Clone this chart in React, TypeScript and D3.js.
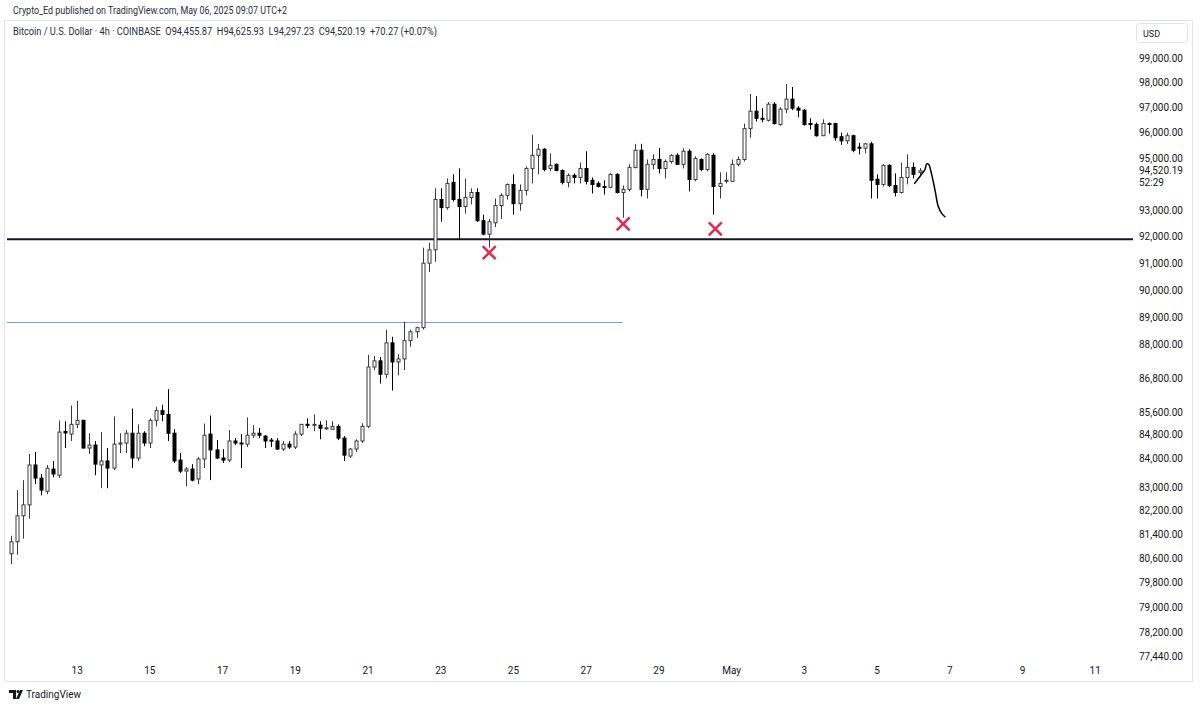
import React, { useEffect, useRef } from 'react';
import * as d3 from 'd3';

const W = 1200;
const H = 708;
const FONT = 'Roboto, "Liberation Sans", sans-serif';

// 4h bars, times in exchange-display time (UTC+2) stored as UTC
const firstBar = Date.UTC(2025, 3, 11, 6);
const lastBar = Date.UTC(2025, 4, 6, 6);
const BAR = 4 * 3600 * 1000;

// [open, high, low, close]
const ohlc: [number, number, number, number][] = [
  [80760, 81360, 80420, 81160], [81160, 82900, 80725, 82030], [82030, 83240, 81260, 82400],
  [82400, 84140, 81930, 83760], [83760, 84210, 83100, 83310], [83310, 83450, 82720, 82900],
  [82860, 83760, 82760, 83650], [83620, 83900, 83340, 83450], [83410, 85310, 83310, 84900],
  [84920, 85280, 84345, 84870], [84830, 85830, 84590, 85170], [85170, 86000, 85035, 85310],
  [85310, 85330, 84330, 84345], [84345, 84860, 84140, 84450], [84450, 84590, 83410, 83790],
  [83760, 84900, 82965, 83900], [83900, 84345, 82965, 83655], [83655, 85450, 83590, 84480],
  [84480, 84860, 84170, 84520], [84520, 84970, 84170, 84860], [84860, 85725, 83655, 84000],
  [84000, 85170, 83900, 84860], [84860, 84930, 84410, 84520], [84520, 85380, 84345, 85310],
  [85310, 85790, 85100, 85650], [85650, 85860, 85280, 85520], [85520, 86410, 84590, 84860],
  [84860, 85000, 83830, 83900], [83930, 84170, 83480, 83550], [83550, 83690, 83030, 83620],
  [83620, 83790, 83200, 83240], [83280, 84035, 83100, 83965], [83965, 85200, 83655, 84790],
  [84830, 85480, 83240, 84280], [84280, 84620, 83965, 84000], [84000, 84310, 83830, 83930],
  [83930, 84970, 83860, 84590], [84590, 84690, 84450, 84520], [84520, 84830, 83655, 84500],
  [84480, 85410, 84380, 84790], [84790, 85140, 84690, 84860], [84860, 85035, 84690, 84790],
  [84760, 84790, 84345, 84590], [84620, 84690, 84380, 84590], [84590, 84690, 84280, 84310],
  [84310, 84590, 84240, 84480], [84480, 84590, 84310, 84380], [84380, 84930, 84310, 84830],
  [84830, 85180, 84760, 85170], [85170, 85380, 85035, 85140], [85140, 85520, 84930, 85170],
  [85140, 85280, 84650, 85035], [85035, 85310, 84970, 85050], [85000, 85280, 85000, 85100],
  [85100, 85170, 84620, 84690], [84690, 84760, 83900, 84100], [84070, 84345, 84000, 84310],
  [84310, 84650, 84210, 84590], [84590, 85210, 84520, 85100], [85100, 87640, 85035, 87200],
  [87200, 87600, 87090, 87420], [87420, 87560, 86610, 86940], [86940, 88550, 86800, 88070],
  [88070, 88290, 86360, 87380], [87380, 87670, 86900, 87490], [87490, 88840, 87090, 88150],
  [88150, 88550, 87930, 88470], [88470, 88660, 88250, 88620], [88620, 91580, 88550, 91000],
  [91000, 91770, 90670, 91500], [91500, 93840, 91050, 93410], [93410, 93840, 92560, 93100],
  [93100, 94220, 93020, 94030], [94070, 94380, 93330, 93410], [93410, 94610, 91880, 93140],
  [93140, 94220, 92870, 93490], [93490, 93840, 93220, 93680], [93680, 93840, 92560, 92600],
  [92600, 92830, 92050, 92090], [92090, 92670, 91580, 92560], [92520, 93450, 92360, 93180],
  [93180, 93650, 92670, 93570], [93570, 94030, 93410, 93990], [93990, 94380, 92830, 93250],
  [93250, 93990, 92980, 93760], [93760, 94690, 93570, 94610], [94610, 95930, 94030, 95120],
  [95120, 95566, 94380, 95360], [95360, 95400, 94500, 94570], [94610, 95200, 94500, 94730],
  [94770, 94800, 94500, 94530], [94530, 94570, 93990, 94070], [94070, 94420, 93880, 94340],
  [94340, 94420, 94030, 94260], [94260, 94840, 94030, 94610], [94610, 95280, 93990, 94110],
  [94150, 94260, 93640, 93990], [94030, 94110, 93870, 93910], [93910, 94150, 93600, 93900],
  [93880, 94420, 93840, 94380], [94380, 94420, 93640, 93680], [93680, 93950, 92710, 93800],
  [93800, 94770, 93720, 94650], [94650, 95570, 94610, 95320], [95320, 95570, 93530, 93800],
  [93800, 94960, 93450, 94770], [94770, 95160, 94570, 94960], [94960, 95400, 94420, 94610],
  [94610, 94960, 94220, 94880], [94880, 95160, 94800, 95120], [95120, 95200, 94770, 94770],
  [94770, 95400, 94610, 95280], [95280, 95360, 93720, 94180], [94180, 95080, 94110, 95000],
  [94960, 95000, 94500, 94570], [94570, 95200, 94500, 95160], [95120, 95200, 92830, 93910],
  [93910, 94460, 93450, 94030], [94140, 94460, 94030, 94150], [94110, 94960, 94110, 94770],
  [94770, 95080, 94690, 94960], [94960, 96370, 94880, 96170], [96170, 97550, 95810, 96860],
  [96860, 97460, 96450, 96580], [96580, 96980, 96420, 96560], [96500, 97220, 96450, 97140],
  [97140, 97220, 96330, 96370], [96330, 97020, 96290, 96940], [96940, 97950, 96780, 97340],
  [97340, 97830, 96900, 96980], [96980, 97060, 96620, 96900], [96900, 96940, 96290, 96330],
  [96370, 96580, 96130, 96350], [96330, 96410, 95850, 95890], [95890, 96540, 95890, 96370],
  [96370, 96410, 95970, 96340], [96370, 96400, 95690, 95810], [95850, 96010, 95530, 95690],
  [95690, 96010, 95570, 95890], [95890, 95930, 95240, 95320], [95440, 95610, 95160, 95400],
  [95400, 95610, 95200, 95570], [95570, 95650, 93450, 94150], [94190, 94380, 93450, 93990],
  [93990, 94770, 93910, 94730], [94730, 94770, 93880, 93950], [93950, 94420, 93530, 93680],
  [93680, 94840, 93640, 94260], [94260, 95160, 93990, 94650], [94650, 94840, 94220, 94380],
  [94455.87, 94625.93, 94297.23, 94520.19],
];

const priceTicks = [
  99000, 98000, 97000, 96000, 95000, 93000, 92000, 91000, 90000, 89000, 88000,
  86800, 85600, 84800, 84000, 83000, 82200, 81400, 80600, 79800, 79000, 78200, 77440,
];

// [month index, day, label]
const dateTicks: [number, number, string][] = [
  [3, 13, '13'], [3, 15, '15'], [3, 17, '17'], [3, 19, '19'], [3, 21, '21'],
  [3, 23, '23'], [3, 25, '25'], [3, 27, '27'], [3, 29, '29'], [4, 1, 'May'],
  [4, 3, '3'], [4, 5, '5'], [4, 7, '7'], [4, 9, '9'], [4, 11, '11'],
];

const supportLevel = 91900;
const breakoutLevel = 88830;
const breakoutEndBar = 101;
// [bar index, price]
const crosses: [number, number][] = [[79, 91390], [101.1, 92480], [116.3, 92290]];
const penPath: [number, number][] = [
  [149.2, 94030], [149.8, 94220], [150.4, 94400], [150.9, 94570], [151.2, 94790],
  [151.5, 94770], [152.0, 94380], [152.6, 93720], [153.1, 93140], [153.7, 92870], [154.2, 92750],
];

const header1 = 'Crypto_Ed published on TradingView.com, May 06, 2025 09:07 UTC+2';
const header2 = 'Bitcoin / U.S. Dollar · 4h · COINBASE  O94,455.87  H94,625.93  L94,297.23  C94,520.19  +70.27 (+0.07%)';
const lastPrice = 94520.19;
const countdown = '52:29';

export default function App() {
  const ref = useRef<SVGSVGElement>(null);

  useEffect(() => {
    const svg = d3.select(ref.current);
    svg.selectAll('*').remove();

    const pane = { left: 5, right: 1133, top: 21, bottom: 660 };

    const x = d3.scaleUtc().domain([firstBar, lastBar]).range([10.5, 919.5]);
    const barX = (i: number) => x(firstBar + i * BAR);
    const y = d3.scaleLog().domain([77440, 99000]).range([656, 58]);
    const fmt = d3.format(',.2f');

    svg.append('rect').attr('width', W).attr('height', H).attr('fill', '#fff');

    // header
    svg.append('text').attr('x', 13).attr('y', 14).attr('font-family', FONT)
      .attr('font-size', 10).attr('fill', '#2a2e39')
      .attr('textLength', 274).attr('lengthAdjust', 'spacingAndGlyphs').text(header1);
    svg.append('rect').attr('x', 4.5).attr('y', 20.5).attr('width', 1188).attr('height', 661)
      .attr('fill', 'none').attr('stroke', '#e0e3eb');
    svg.append('text').attr('x', 13).attr('y', 35).attr('font-family', FONT)
      .attr('font-size', 10).attr('fill', '#2a2e39').attr('xml:space', 'preserve')
      .attr('textLength', 424).attr('lengthAdjust', 'spacingAndGlyphs').text(header2);

    const clip = svg.append('defs').append('clipPath').attr('id', 'pane');
    clip.append('rect').attr('x', pane.left).attr('y', pane.top)
      .attr('width', pane.right - pane.left).attr('height', pane.bottom - pane.top);
    const g = svg.append('g').attr('clip-path', 'url(#pane)');

    // horizontal levels
    g.append('line').attr('x1', pane.left + 2).attr('x2', barX(breakoutEndBar))
      .attr('y1', Math.round(y(breakoutLevel)) + 0.5).attr('y2', Math.round(y(breakoutLevel)) + 0.5)
      .attr('stroke', '#6f9cf5').attr('stroke-width', 1);
    g.append('line').attr('x1', pane.left + 2).attr('x2', pane.right)
      .attr('y1', y(supportLevel)).attr('y2', y(supportLevel))
      .attr('stroke', '#131722').attr('stroke-width', 2);

    // candles
    const candle = g.selectAll('g.c').data(ohlc).enter().append('g');
    candle.append('line')
      .attr('x1', (d, i) => Math.round(barX(i)) + 0.5).attr('x2', (d, i) => Math.round(barX(i)) + 0.5)
      .attr('y1', (d) => y(d[1])).attr('y2', (d) => y(d[2]))
      .attr('stroke', (d) => (d[3] >= d[0] ? '#3a3a3a' : '#000')).attr('stroke-width', 1);
    candle.append('rect')
      .attr('x', (d, i) => Math.round(barX(i)) - 1)
      .attr('y', (d) => y(Math.max(d[0], d[3])))
      .attr('width', 3)
      .attr('height', (d) => Math.max(1, y(Math.min(d[0], d[3])) - y(Math.max(d[0], d[3]))))
      .attr('fill', (d) => (d[3] >= d[0] ? '#fff' : '#000'))
      .attr('stroke', (d) => (d[3] >= d[0] ? '#3a3a3a' : '#000'))
      .attr('stroke-width', 1);

    // red crosses
    crosses.forEach(([i, p]) => {
      const cx = barX(i);
      const cy = y(p);
      const s = 6.5;
      g.append('path')
        .attr('d', `M${cx - s},${cy - s}L${cx + s},${cy + s}M${cx + s},${cy - s}L${cx - s},${cy + s}`)
        .attr('stroke', '#e5294b').attr('stroke-width', 2.5).attr('fill', 'none');
    });

    // hand drawn projection
    const pen = d3.line<[number, number]>()
      .x((d) => barX(d[0])).y((d) => y(d[1]))
      .curve(d3.curveCatmullRom);
    g.append('path').attr('d', pen(penPath)).attr('fill', 'none')
      .attr('stroke', '#000').attr('stroke-width', 1.5).attr('stroke-linecap', 'round');

    // price scale
    svg.append('rect').attr('x', 1136.5).attr('y', 23.5).attr('width', 51).attr('height', 19)
      .attr('rx', 3).attr('fill', '#fff').attr('stroke', '#e0e3eb');
    svg.append('text').attr('x', 1143).attr('y', 37).attr('font-family', FONT)
      .attr('font-size', 9).attr('fill', '#131722').text('USD');
    svg.append('g').selectAll('text').data(priceTicks).enter().append('text')
      .attr('x', 1139).attr('y', (d) => y(d)).attr('dy', '0.35em')
      .attr('font-family', FONT).attr('font-size', 10).attr('fill', '#131722')
      .text((d) => fmt(d));
    svg.append('text').attr('x', 1139).attr('y', y(lastPrice)).attr('dy', '0.35em')
      .attr('font-family', FONT).attr('font-size', 10).attr('fill', '#131722').text(fmt(lastPrice));
    svg.append('text').attr('x', 1139).attr('y', y(lastPrice) + 12).attr('dy', '0.35em')
      .attr('font-family', FONT).attr('font-size', 10).attr('fill', '#131722').text(countdown);

    // time scale
    svg.append('g').selectAll('text').data(dateTicks).enter().append('text')
      .attr('x', (d) => x(Date.UTC(2025, d[0], d[1], 2)))
      .attr('y', 670).attr('dy', '0.35em').attr('text-anchor', 'middle')
      .attr('font-family', FONT).attr('font-size', 10).attr('fill', '#131722')
      .text((d) => d[2]);

    // logo
    const logo = svg.append('g').attr('fill', '#131722');
    logo.append('path').attr('d', 'M9,690h7v9h-3v-6h-4z');
    logo.append('circle').attr('cx', 18).attr('cy', 691.5).attr('r', 1.5);
    logo.append('path').attr('d', 'M20,690h3l-4,9h-3z');
    logo.append('text').attr('x', 26).attr('y', 698).attr('font-family', FONT)
      .attr('font-size', 10).text('TradingView');
  }, []);

  return (
    <svg
      ref={ref}
      width={W}
      height={H}
      style={{ position: 'absolute', left: 0, top: 0, display: 'block' }}
    />
  );
}
